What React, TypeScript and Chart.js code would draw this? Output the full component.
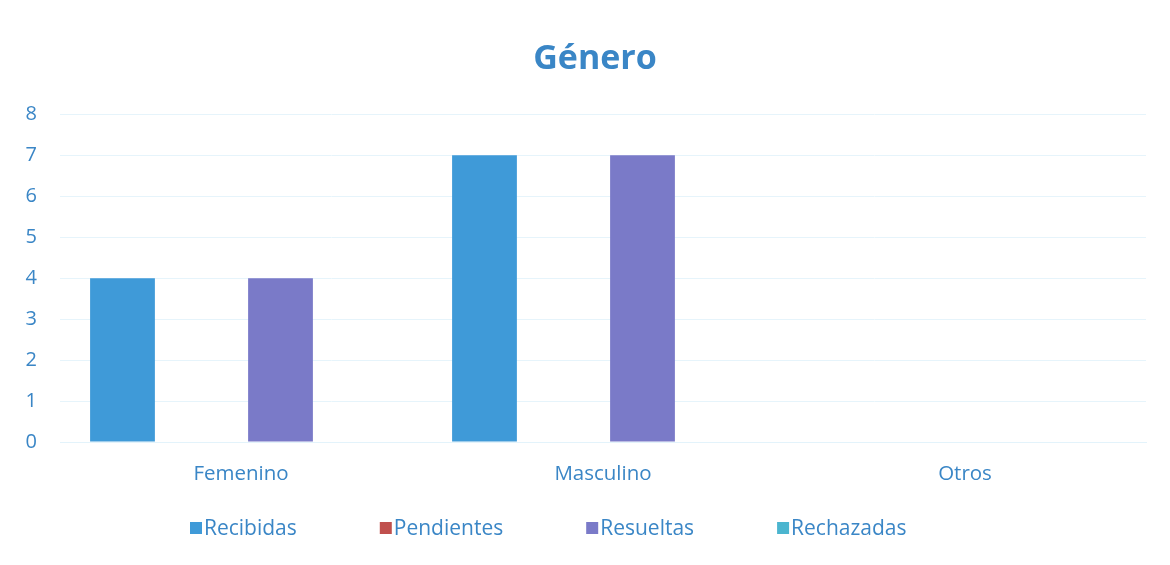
import React, { useEffect, useRef } from "react";
import { Chart, registerables } from "chart.js";

Chart.register(...registerables);

const categories = ["Femenino", "Masculino", "Otros"];
const seriesNames = ["Recibidas", "Pendientes", "Resueltas", "Rechazadas"];
const recibidas = [4, 7, 0];
const pendientes = [0, 0, 0];
const resueltas = [4, 7, 0];
const rechazadas = [0, 0, 0];
const seriesColors = ["#3f9ad8", "#c0504d", "#7a7ac8", "#4bb5cf"];
const yTicks = [0, 1, 2, 3, 4, 5, 6, 7, 8];

const TEXT_COLOR = "#3a86c6";
const FONT = "'Open Sans', 'Noto Sans', sans-serif";

const customLegend = {
  id: "customLegend",
  afterLayout(chart: any) {
    if (chart.titleBlock) {
      chart.titleBlock.left = 44;
      chart.titleBlock.right = 1146;
    }
  },
  afterDraw(chart: any) {
    const ctx = chart.ctx;
    const y = 528;
    const gap = 83;
    const box = 12;
    ctx.save();
    ctx.font = `21px ${FONT}`;
    ctx.textBaseline = "middle";
    const items = chart.data.datasets.map((d: any) => ({
      text: d.label,
      color: d.backgroundColor,
      w: box + 2 + ctx.measureText(d.label).width,
    }));
    let x = 190;
    items.forEach((it: any) => {
      ctx.fillStyle = it.color;
      ctx.fillRect(x, y - box / 2, box, box);
      ctx.fillStyle = TEXT_COLOR;
      ctx.fillText(it.text, x + box + 2, y + 1);
      x += it.w + gap;
    });
    ctx.restore();
  },
};

export default function App() {
  const ref = useRef<HTMLCanvasElement | null>(null);
  useEffect(() => {
    document.body.style.margin = "0";
    const values = [recibidas, pendientes, resueltas, rechazadas];
    const chart = new Chart(ref.current as HTMLCanvasElement, {
      type: "bar",
      data: {
        labels: categories,
        datasets: seriesNames.map((name, i) => ({
          label: name,
          data: values[i],
          backgroundColor: seriesColors[i],
          borderWidth: 0,
          categoryPercentage: 0.873,
          barPercentage: 0.82,
        })),
      },
      plugins: [customLegend],
      options: {
        animation: false,
        responsive: false,
        maintainAspectRatio: false,
        layout: { padding: { left: 0, right: 24, top: 0, bottom: 73 } },
        plugins: {
          legend: { display: false },
          tooltip: { enabled: false },
          title: {
            display: true,
            text: "Género",
            color: TEXT_COLOR,
            font: { family: FONT, size: 34, weight: "bold" },
            padding: { top: 38.5, bottom: 35 },
          },
        },
        scales: {
          x: {
            grid: { display: false, drawTicks: false },
            border: { display: true, color: "#e3f3fb" },
            ticks: { color: TEXT_COLOR, font: { family: FONT, size: 20.5 }, padding: 20 },
            afterFit: (s: any) => { s.height = 50; },
          },
          y: {
            min: 0,
            max: 8,
            afterBuildTicks: (s: any) => { s.ticks = yTicks.map((v) => ({ value: v })); },
            grid: { color: "#e6f4fb", drawTicks: false },
            border: { display: false },
            ticks: { color: TEXT_COLOR, font: { family: FONT, size: 20 }, padding: 23 },
            afterFit: (s: any) => { s.width = 60; },
          },
        },
      },
    });
    return () => chart.destroy();
  }, []);
  return (
    <div style={{ width: 1170, height: 565, position: "relative" }}>
      <canvas ref={ref} width={1170} height={565} style={{ display: "block" }} />
    </div>
  );
}
